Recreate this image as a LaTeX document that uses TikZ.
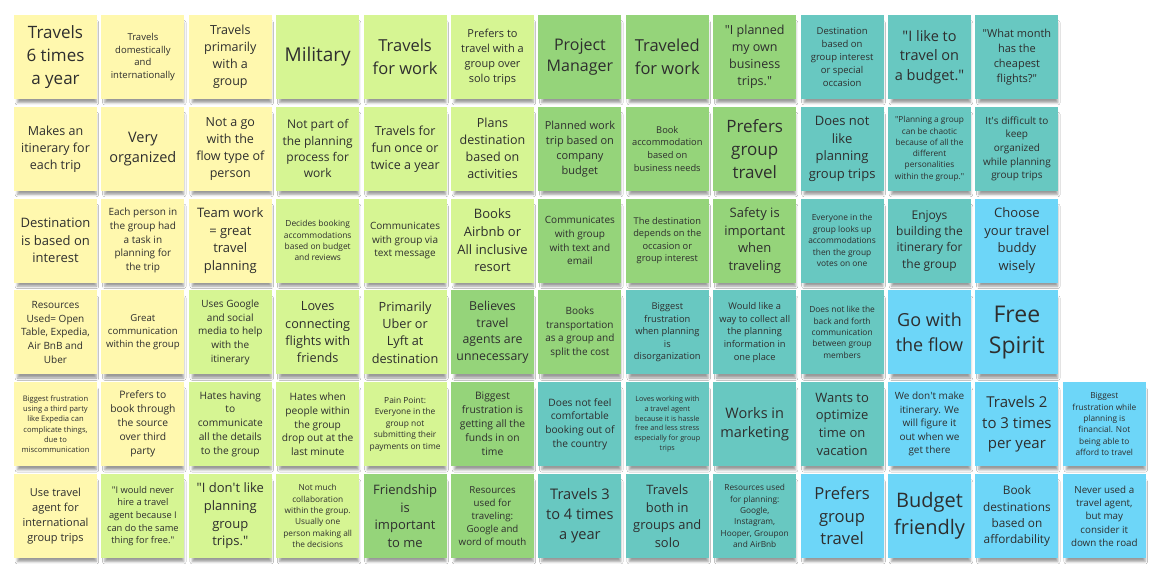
\documentclass[tikz,border=0pt]{standalone}
\usepackage{fontspec}
\setmainfont{Open Sans}
\usetikzlibrary{shadows.blur}
\definecolor{cY}{HTML}{FFF8AE}
\definecolor{cLG}{HTML}{D6F593}
\definecolor{cDG}{HTML}{95D47A}
\definecolor{cC}{HTML}{68C8C1}
\definecolor{cB}{HTML}{6DD6F8}
\definecolor{txt}{HTML}{2E2E2E}
\newcommand\qq{\textquotedbl}
\newcommand\ap{\textquotesingle}
\tikzset{
  sticky/.style={minimum width=83pt, minimum height=84pt, inner sep=1pt, align=center,
    text=txt, draw=none,
    blur shadow={shadow xshift=1.5pt, shadow yshift=-6pt, shadow scale=0.95,
      shadow blur radius=2.5pt, shadow opacity=40}}
}
\newcommand\stk[5]{%
  \node[sticky, fill=#3, font=\fontsize{#4pt}{\dimexpr #4pt*136/100\relax}\selectfont]
    (n-#1-#2) at ({55.5+87.4*(#2-1)},{-57-91.8*(#1-1)}) {#5};}
\begin{document}
\begin{tikzpicture}[x=1pt,y=1pt]
\fill[white] (0,0) rectangle (1159,-577);
\useasboundingbox (0,0) rectangle (1159,-577);
% Row 1
\stk{1}{1}{cY}{17}{Travels\\6 times\\a year}
\stk{1}{2}{cY}{9.5}{Travels\\domestically\\and\\internationally}
\stk{1}{3}{cY}{12.5}{Travels\\primarily\\with a\\group}
\stk{1}{4}{cLG}{19}{Military}
\stk{1}{5}{cLG}{16.5}{Travels\\for work}
\stk{1}{6}{cLG}{11}{Prefers to\\travel with a\\group over\\solo trips}
\stk{1}{7}{cDG}{16}{Project\\Manager}
\stk{1}{8}{cDG}{16.5}{Traveled\\for work}
\stk{1}{9}{cDG}{12.5}{\qq I planned\\my own\\business\\trips.\qq}
\stk{1}{10}{cC}{9.5}{Destination\\based on\\group interest\\or special\\occasion}
\stk{1}{11}{cC}{14.5}{\qq I like to\\travel on\\a budget.\qq}
\stk{1}{12}{cC}{11}{\qq What month\\has the\\cheapest\\flights?\qq}
% Row 2
\stk{2}{1}{cY}{12.5}{Makes an\\itinerary for\\each trip}
\stk{2}{2}{cY}{14.5}{Very\\organized}
\stk{2}{3}{cY}{12.5}{Not a go\\with the\\flow type of\\person}
\stk{2}{4}{cLG}{12}{Not part of\\the planning\\process for\\work}
\stk{2}{5}{cLG}{12.5}{Travels for\\fun once or\\twice a year}
\stk{2}{6}{cLG}{12.5}{Plans\\destination\\based on\\activities}
\stk{2}{7}{cDG}{11}{Planned work\\trip based on\\company\\budget}
\stk{2}{8}{cDG}{9.3}{Book\\accommodation\\based on\\business needs}
\stk{2}{9}{cDG}{17}{Prefers\\group\\travel}
\stk{2}{10}{cC}{13}{Does not\\like\\planning\\group trips}
\stk{2}{11}{cC}{8.3}{\qq Planning a group\\can be chaotic\\because of all the\\different\\personalities\\within the group.\qq}
\stk{2}{12}{cC}{10}{It\ap s difficult to\\keep\\organized\\while planning\\group trips}
% Row 3
\stk{3}{1}{cY}{13}{Destination\\is based on\\interest}
\stk{3}{2}{cY}{10}{Each person in\\the group had\\a task in\\planning for\\the trip}
\stk{3}{3}{cY}{13}{Team work\\= great\\travel\\planning}
\stk{3}{4}{cLG}{8.4}{Decides booking\\accommodations\\based on budget\\and reviews}
\stk{3}{5}{cLG}{10}{Communicates\\with group via\\text message}
\stk{3}{6}{cLG}{13}{Books\\Airbnb or\\All inclusive\\resort}
\stk{3}{7}{cDG}{10}{Communicates\\with group\\with text and\\email}
\stk{3}{8}{cDG}{9.3}{The destination\\depends on the\\occasion or\\group interest}
\stk{3}{9}{cDG}{13}{Safety is\\important\\when\\traveling}
\stk{3}{10}{cC}{8.4}{Everyone in the\\group looks up\\accommodations\\then the group\\votes on one}
\stk{3}{11}{cC}{12}{Enjoys\\building the\\itinerary for\\the group}
\stk{3}{12}{cB}{13}{Choose\\your travel\\buddy\\wisely}
% Row 4
\stk{4}{1}{cY}{10}{Resources\\Used= Open\\Table, Expedia,\\Air BnB and\\Uber}
\stk{4}{2}{cY}{9.6}{Great\\communication\\within the group}
\stk{4}{3}{cLG}{10}{Uses Google\\and social\\media to help\\with the\\itinerary}
\stk{4}{4}{cLG}{12.7}{Loves\\connecting\\flights with\\friends}
\stk{4}{5}{cLG}{12.7}{Primarily\\Uber or\\Lyft at\\destination}
\stk{4}{6}{cDG}{12.3}{Believes\\travel\\agents are\\unnecessary}
\stk{4}{7}{cDG}{10}{Books\\transportation\\as a group and\\split the cost}
\stk{4}{8}{cC}{9.3}{Biggest\\frustration\\when planning\\is\\disorganization}
\stk{4}{9}{cC}{9.3}{Would like a\\way to collect all\\the planning\\information in\\one place}
\stk{4}{10}{cC}{8.4}{Does not like the\\back and forth\\communication\\between group\\members}
\stk{4}{11}{cB}{18}{Go with\\the flow}
\stk{4}{12}{cB}{23}{Free\\Spirit}
% Row 5
\stk{5}{1}{cY}{7.6}{Biggest frustration\\using a third party\\like Expedia can\\complicate things,\\due to\\miscommunication}
\stk{5}{2}{cY}{10.3}{Prefers to\\book through\\the source\\over third\\party}
\stk{5}{3}{cLG}{10.2}{Hates having\\to\\communicate\\all the details\\to the group}
\stk{5}{4}{cLG}{10.2}{Hates when\\people within\\the group\\drop out at the\\last minute}
\stk{5}{5}{cLG}{8.4}{Pain Point:\\Everyone in the\\group not\\submitting their\\payments on time}
\stk{5}{6}{cDG}{10.3}{Biggest\\frustration is\\getting all the\\funds in on\\time}
\stk{5}{7}{cC}{10.2}{Does not feel\\comfortable\\booking out of\\the country}
\stk{5}{8}{cC}{7.2}{Loves working with\\a travel agent\\because it is hassle\\free and less stress\\especially for group\\trips}
\stk{5}{9}{cC}{14.5}{Works in\\marketing}
\stk{5}{10}{cC}{13}{Wants to\\optimize\\time on\\vacation}
\stk{5}{11}{cB}{10}{We don\ap t make\\itinerary. We\\will figure it\\out when we\\get there}
\stk{5}{12}{cB}{15}{Travels 2\\to 3 times\\per year}
\stk{5}{13}{cB}{8.3}{Biggest\\frustration while\\planning is\\financial. Not\\being able to\\afford to travel}
% Row 6
\stk{6}{1}{cY}{11}{Use travel\\agent for\\international\\group trips}
\stk{6}{2}{cLG}{9.3}{\qq I would never\\hire a travel\\agent because I\\can do the same\\thing for free.\qq}
\stk{6}{3}{cLG}{13}{\qq I don\ap t like\\planning\\group\\trips.\qq}
\stk{6}{4}{cLG}{8.3}{Not much\\collaboration\\within the group.\\Usually one\\person making all\\the decisions}
\stk{6}{5}{cDG}{13}{Friendship\\is\\important\\to me}
\stk{6}{6}{cDG}{9.7}{Resources\\used for\\traveling:\\Google and\\word of mouth}
\stk{6}{7}{cC}{14.6}{Travels 3\\to 4 times\\a year}
\stk{6}{8}{cC}{12.9}{Travels\\both in\\groups and\\solo}
\stk{6}{9}{cC}{8.3}{Resources used\\for planning:\\Google,\\Instagram,\\Hooper, Groupon\\and AirBnb}
\stk{6}{10}{cB}{16.6}{Prefers\\group\\travel}
\stk{6}{11}{cB}{20}{Budget\\friendly}
\stk{6}{12}{cB}{11.8}{Book\\destinations\\based on\\affordability}
\stk{6}{13}{cB}{9.8}{Never used a\\travel agent,\\but may\\consider it\\down the road}
\end{tikzpicture}
\end{document}
